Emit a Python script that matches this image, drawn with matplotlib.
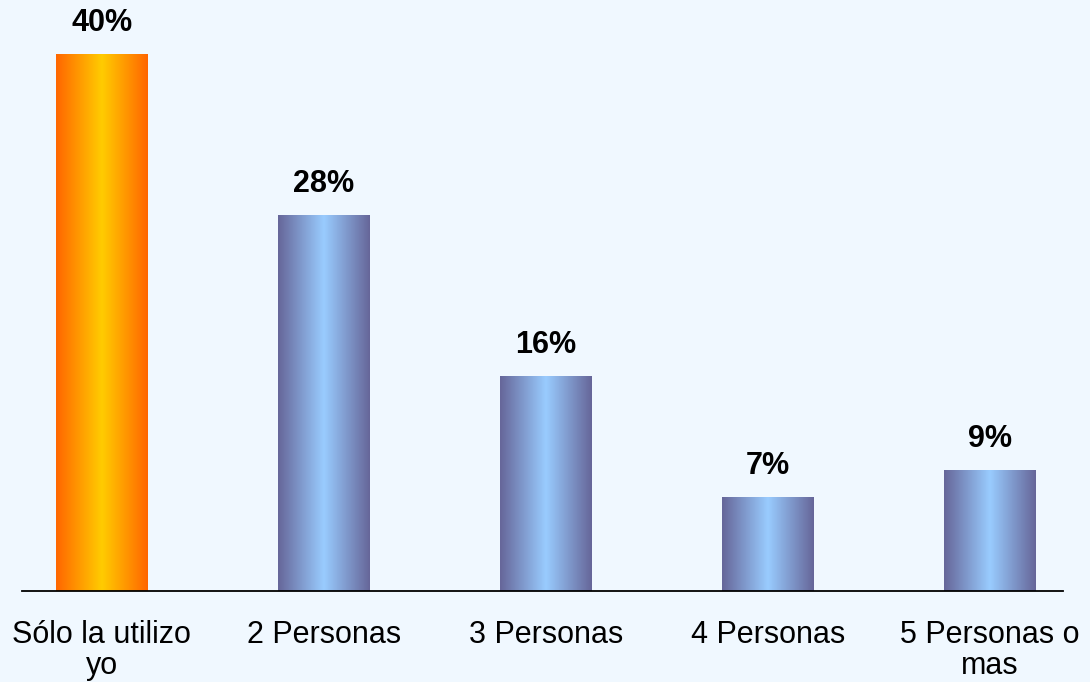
import matplotlib.pyplot as plt
import numpy as np
from matplotlib.colors import LinearSegmentedColormap

plt.rcParams['font.family'] = ['Liberation Sans', 'DejaVu Sans']

categories = ["Sólo la utilizo\nyo", "2 Personas", "3 Personas", "4 Personas", "5 Personas o\nmas"]
values = [40, 28, 16, 7, 9]
value_labels = ["40%", "28%", "16%", "7%", "9%"]

bg = "#F0F8FF"
orange_cmap = LinearSegmentedColormap.from_list("orange", ["#FF6600", "#FFCC00", "#FF6600"])
blue_cmap = LinearSegmentedColormap.from_list("blue", ["#666699", "#99CCFF", "#666699"])

fig = plt.figure(figsize=(10.9, 6.82), dpi=100, facecolor=bg)
ax = fig.add_axes([22 / 1090, 91 / 682, (1063 - 22) / 1090, 591 / 682])
ax.set_facecolor(bg)

x = np.arange(len(categories))
width = 0.414
bars = ax.bar(x, values, width=width, color="none", edgecolor="none")

# horizontal gradient fill, clipped to each bar
grad = np.linspace(0, 1, 256).reshape(1, -1)
for i, bar in enumerate(bars):
    x0, y0 = bar.get_x(), bar.get_y()
    w, h = bar.get_width(), bar.get_height()
    cmap = orange_cmap if i == 0 else blue_cmap
    im = ax.imshow(grad, cmap=cmap, aspect="auto", extent=(x0, x0 + w, y0, y0 + h),
                   interpolation="bicubic", zorder=2)
    im.set_clip_path(bar)
    ax.text(bar.get_x() + w / 2, h + 1.2, value_labels[i], ha="center", va="bottom",
            fontsize=22, fontweight="bold", color="black")

ax.set_xlim(-0.36, 4.329)
ax.set_ylim(0, 44.0)
ax.set_xticks(x)
ax.set_xticklabels(categories, fontsize=22, linespacing=1.05)
ax.tick_params(axis="x", length=0, pad=21)
ax.set_yticks([])
for side in ["top", "right", "left"]:
    ax.spines[side].set_visible(False)
ax.spines["bottom"].set_linewidth(1.3)
ax.spines["bottom"].set_zorder(3)

fig.savefig("out.png", dpi=100, facecolor=bg)
